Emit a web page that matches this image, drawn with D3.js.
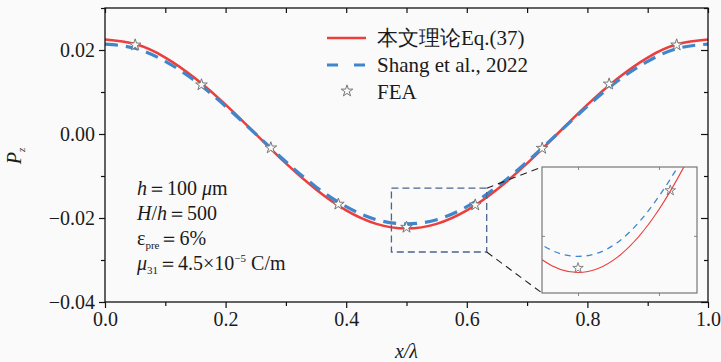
<!DOCTYPE html>
<html>
<head>
<meta charset="utf-8">
<script src="https://cdn.jsdelivr.net/npm/d3@7"></script>
<style>
  body { margin: 0; background: #fafafa; }
</style>
</head>
<body>
<div id="chart"></div>
<script>
// Data
const xVals = [0, 0.05, 0.1, 0.15, 0.2, 0.25, 0.3, 0.35, 0.4, 0.45, 0.5,
  0.55, 0.6, 0.65, 0.7, 0.75, 0.8, 0.85, 0.9, 0.95, 1.0];
const theoryVals = [0.0225, 0.0214, 0.0182, 0.0132, 0.0070, 0.0000, -0.0070, -0.0132, -0.0182, -0.0214, -0.0225,
  -0.0214, -0.0182, -0.0132, -0.0070, 0.0000, 0.0070, 0.0132, 0.0182, 0.0214, 0.0225];
const shangVals = [0.0214, 0.0204, 0.0173, 0.0126, 0.0066, 0.0000, -0.0066, -0.0126, -0.0173, -0.0204, -0.0214,
  -0.0204, -0.0173, -0.0126, -0.0066, 0.0000, 0.0066, 0.0126, 0.0173, 0.0204, 0.0214];
const feaX = [0.05, 0.16, 0.275, 0.387, 0.5, 0.614, 0.725, 0.836, 0.948];
const feaY = [0.0212, 0.0117, -0.0033, -0.0167, -0.0222, -0.0169, -0.0034, 0.0119, 0.0212];

const xTicks = [0, 0.2, 0.4, 0.6, 0.8, 1.0];
const xMinor = [0.1, 0.3, 0.5, 0.7, 0.9];
const yTicks = [-0.04, -0.02, 0, 0.02];
const yMinor = [-0.03, -0.01, 0.01, 0.03];
const legendLabels = ["本文理论Eq.(37)", "Shang et al., 2022", "FEA"];

// zoom window (data units) and inset ranges
const zoomBoxX = [0.475, 0.633];
const zoomBoxY = [-0.0281, -0.0129];
const insetXDomain = [0.4555, 0.647];
const insetYDomain = [-0.0239, -0.0153];
const insetXTicks = [0.5, 0.6];
const insetYTicks = [-0.02];

const theory = xVals.map((x, i) => ({ x: x, y: theoryVals[i] }));
const shang = xVals.map((x, i) => ({ x: x, y: shangVals[i] }));
const fea = feaX.map((x, i) => ({ x: x, y: feaY[i] }));

const W = 721, H = 362;
const margin = { top: 8, left: 105 },
  width = 603,
  height = 294;

const red = "#ec3f3c", blue = "#3f86cc";

const svgRoot = d3.select("#chart").append("svg")
  .attr("width", W)
  .attr("height", H);

svgRoot.append("rect").attr("width", W).attr("height", H).attr("fill", "#fafafa");

const svg = svgRoot.append("g")
  .attr("transform", `translate(${margin.left},${margin.top})`);

const x = d3.scaleLinear().domain([0, 1]).range([0, width]);
const y = d3.scaleLinear().domain([-0.04, 0.03]).range([height, 0]);

// Axes
const fmtX = d3.format(".1f"), fmtY = d3.format(".2f");
function styleAxis(g) {
  g.select(".domain").remove();
  g.selectAll("line").attr("stroke", "#111").attr("stroke-width", 1.2);
  g.selectAll("text").style("font-size", "20px").attr("fill", "#1a1a1a");
}

svg.append("g").attr("transform", `translate(0,${height})`)
  .call(d3.axisBottom(x).tickValues(xTicks).tickSize(6).tickPadding(4).tickFormat(fmtX))
  .call(styleAxis);
svg.append("g").attr("transform", `translate(0,${height})`)
  .call(d3.axisBottom(x).tickValues(xMinor).tickSize(4).tickFormat(""))
  .call(styleAxis);
svg.append("g")
  .call(d3.axisTop(x).tickValues(xTicks.concat(xMinor)).tickSize(-5).tickFormat(""))
  .call(styleAxis);

svg.append("g")
  .call(d3.axisLeft(y).tickValues(yTicks).tickSize(6).tickPadding(4).tickFormat(fmtY))
  .call(styleAxis);
svg.append("g")
  .call(d3.axisLeft(y).tickValues(yMinor).tickSize(4).tickFormat(""))
  .call(styleAxis);
svg.append("g").attr("transform", `translate(${width},0)`)
  .call(d3.axisRight(y).tickValues(yTicks).tickSize(-7).tickFormat(""))
  .call(styleAxis);
svg.append("g").attr("transform", `translate(${width},0)`)
  .call(d3.axisRight(y).tickValues(yMinor).tickSize(-4).tickFormat(""))
  .call(styleAxis);

// Curves
const line = d3.line().x(d => x(d.x)).y(d => y(d.y)).curve(d3.curveNatural);

svg.append("path").datum(theory)
  .attr("fill", "none").attr("stroke", red).attr("stroke-width", 2.6)
  .attr("d", line);
svg.append("path").datum(shang)
  .attr("fill", "none").attr("stroke", blue).attr("stroke-width", 3.2)
  .attr("stroke-dasharray", "13,8")
  .attr("d", line);

const star = d3.symbol().type(d3.symbolStar).size(42);
svg.append("g").selectAll("path")
  .data(fea)
  .join("path")
  .attr("transform", d => `translate(${x(d.x)},${y(d.y)})`)
  .attr("d", star)
  .attr("fill", "#fafafa")
  .attr("stroke", "#777")
  .attr("stroke-width", 1);

// Frame
svg.append("rect")
  .attr("width", width).attr("height", height)
  .attr("fill", "none").attr("stroke", "#111").attr("stroke-width", 1.3);

// Axis titles
svgRoot.append("text")
  .attr("x", margin.left + width / 2).attr("y", 358)
  .attr("text-anchor", "middle")
  .style("font-size", "20px").style("font-style", "italic").attr("fill", "#1a1a1a")
  .text("x/λ");

const yTitle = svgRoot.append("text")
  .attr("transform", "translate(21,156) rotate(-90)")
  .attr("text-anchor", "middle")
  .style("font-size", "20px").attr("fill", "#1a1a1a");
yTitle.append("tspan").style("font-style", "italic").text("P");
yTitle.append("tspan").attr("dy", 4).style("font-size", "11px").style("font-style", "italic").text("z");

// Legend
const legend = svgRoot.append("g").attr("transform", "translate(327,38)");
legendLabels.forEach((label, i) => {
  const g = legend.append("g").attr("transform", `translate(0,${i * 27})`);
  if (i === 0) {
    g.append("line").attr("x1", 0).attr("x2", 39)
      .attr("stroke", red).attr("stroke-width", 2.6);
  } else if (i === 1) {
    g.append("line").attr("x1", 0).attr("x2", 39)
      .attr("stroke", blue).attr("stroke-width", 3.2).attr("stroke-dasharray", "11,16");
  } else {
    g.append("path").attr("transform", "translate(20,-1)").attr("d", star)
      .attr("fill", "#fafafa").attr("stroke", "#777").attr("stroke-width", 1);
  }
  g.append("text")
    .attr("x", 50).attr("y", 7)
    .style("font-size", "21px").attr("fill", "#1a1a1a")
    .text(label);
});

// Parameter annotation
const note = svgRoot.append("g").attr("transform", "translate(137,195)").attr("fill", "#1a1a1a")
  .style("font-size", "20px");
const r1 = note.append("text").attr("y", 0);
r1.append("tspan").style("font-style", "italic").text("h");
r1.append("tspan").text("＝100 ");
r1.append("tspan").style("font-style", "italic").text("μ");
r1.append("tspan").text("m");
const r2 = note.append("text").attr("y", 25);
r2.append("tspan").style("font-style", "italic").text("H");
r2.append("tspan").text("/");
r2.append("tspan").style("font-style", "italic").text("h");
r2.append("tspan").text("＝500");
const r3 = note.append("text").attr("y", 50);
r3.append("tspan").text("ε");
r3.append("tspan").attr("dy", 4).style("font-size", "11px").text("pre");
r3.append("tspan").attr("dy", -4).text("＝6%");
const r4 = note.append("text").attr("y", 75);
r4.append("tspan").style("font-style", "italic").text("μ");
r4.append("tspan").attr("dy", 4).style("font-size", "11px").text("31");
r4.append("tspan").attr("dy", -4).text("＝4.5×10");
r4.append("tspan").attr("dy", -8).style("font-size", "11px").text("−5");
r4.append("tspan").attr("dy", 8).text(" C/m");

// Zoom box
const bx0 = x(zoomBoxX[0]), bx1 = x(zoomBoxX[1]);
const by0 = y(zoomBoxY[1]), by1 = y(zoomBoxY[0]);
svg.append("rect")
  .attr("x", bx0).attr("y", by0)
  .attr("width", bx1 - bx0).attr("height", by1 - by0)
  .attr("fill", "none").attr("stroke", "#4a6590").attr("stroke-width", 1.3)
  .attr("stroke-dasharray", "7,4");

// Inset
const inset = { left: 542, top: 167, width: 155, height: 126 };
const ix = d3.scaleLinear().domain(insetXDomain).range([0, inset.width]);
const iy = d3.scaleLinear().domain(insetYDomain).range([inset.height, 0]);

// connector lines
svgRoot.append("line")
  .attr("x1", margin.left + bx1).attr("y1", margin.top + by0)
  .attr("x2", inset.left).attr("y2", inset.top)
  .attr("stroke", "#222").attr("stroke-width", 1.1).attr("stroke-dasharray", "7,5");
svgRoot.append("line")
  .attr("x1", margin.left + bx1).attr("y1", margin.top + by1)
  .attr("x2", inset.left).attr("y2", inset.top + inset.height)
  .attr("stroke", "#222").attr("stroke-width", 1.1).attr("stroke-dasharray", "7,5");

const ig = svgRoot.append("g").attr("transform", `translate(${inset.left},${inset.top})`);
svgRoot.append("clipPath").attr("id", "insetClip")
  .append("rect").attr("width", inset.width).attr("height", inset.height);

ig.append("rect").attr("width", inset.width).attr("height", inset.height).attr("fill", "#fafafa");

const iline = d3.line().x(d => ix(d.x)).y(d => iy(d.y)).curve(d3.curveNatural);
const ic = ig.append("g").attr("clip-path", "url(#insetClip)");
ic.append("path").datum(theory)
  .attr("fill", "none").attr("stroke", red).attr("stroke-width", 1.2).attr("d", iline);
ic.append("path").datum(shang)
  .attr("fill", "none").attr("stroke", blue).attr("stroke-width", 1.3)
  .attr("stroke-dasharray", "6,5").attr("d", iline);
ic.selectAll("path.fea")
  .data(fea.filter(d => d.x > insetXDomain[0] && d.x < insetXDomain[1]))
  .join("path").attr("class", "fea")
  .attr("transform", d => `translate(${ix(d.x)},${iy(d.y)})`)
  .attr("d", d3.symbol().type(d3.symbolStar).size(34))
  .attr("fill", "none").attr("stroke", "#777").attr("stroke-width", 0.9);

function insetAxis(g) {
  g.select(".domain").remove();
  g.selectAll("line").attr("stroke", "#888").attr("stroke-width", 1);
}
ig.append("g").call(d3.axisTop(ix).tickValues(insetXTicks).tickSize(-3).tickFormat("")).call(insetAxis);
ig.append("g").attr("transform", `translate(0,${inset.height})`)
  .call(d3.axisBottom(ix).tickValues(insetXTicks).tickSize(3).tickFormat("")).call(insetAxis);
ig.append("g").call(d3.axisLeft(iy).tickValues(insetYTicks).tickSize(-3).tickFormat("")).call(insetAxis);
ig.append("g").attr("transform", `translate(${inset.width},0)`)
  .call(d3.axisRight(iy).tickValues(insetYTicks).tickSize(-3).tickFormat("")).call(insetAxis);

ig.append("rect").attr("width", inset.width).attr("height", inset.height)
  .attr("fill", "none").attr("stroke", "#777").attr("stroke-width", 1.2);

// one font for every text element
svgRoot.selectAll("text").style("font-family", "'Liberation Serif'");
</script>
</body>
</html>
